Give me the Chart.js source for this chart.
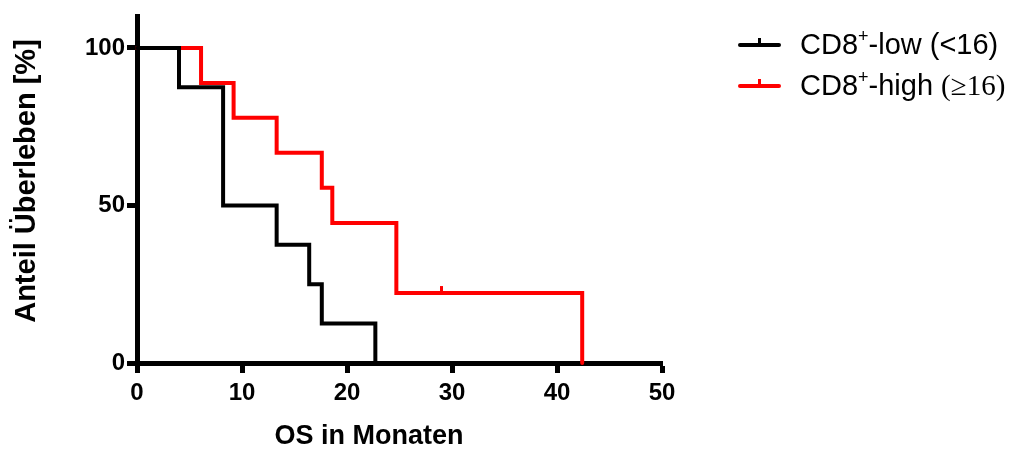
<!DOCTYPE html>
<html>
<head>
<meta charset="utf-8">
<script src="https://cdn.jsdelivr.net/npm/chart.js@4.4.1/dist/chart.umd.min.js"></script>
<style>
    html, body { margin: 0; padding: 0; background: #fff; }
    #wrap { width: 1009px; height: 451px; position: relative; }
</style>
</head>
<body>
<div id="wrap"><canvas id="myChart"></canvas></div>
<script>
// Kaplan-Meier Stufen (Zeit in Monaten, Überleben in %)
const lowTimes = [0, 4.0, 8.2, 13.3, 16.4, 17.6, 22.7];
const lowSurv = [100, 87.5, 50, 37.5, 25, 12.5, 0];
const highTimes = [0, 6.1, 9.2, 13.3, 17.6, 18.6, 24.7, 42.4];
const highSurv = [100, 88.9, 77.8, 66.7, 55.6, 44.4, 22.2, 0];
// zensierte Fälle
const highCensorTimes = [29.0];
const highCensorSurv = [22.2];

const xTicks = [0, 10, 20, 30, 40, 50];
const yTicks = [0, 50, 100];

const xTitle = 'OS in Monaten';
const yTitle = 'Anteil \u00dcberleben [%]';

const legendItems = [
    { main: 'CD8', tail: '-low (<16)', serifTail: '', color: '#000000' },
    { main: 'CD8', tail: '-high ', serifTail: '(\u226516)', color: '#ff0000' },
];

const FONT = '"Liberation Sans", Arial, sans-serif';

function toPoints(xs, ys) {
    let pts = [];
    for (let i = 0; i < xs.length; i++) {
        pts.push({ x: xs[i], y: ys[i] });
    }
    return pts;
}

const censorPlugin = {
    id: 'censor',
    afterDatasetsDraw(chart) {
        const c = chart.ctx;
        const xs = chart.scales.x;
        const ys = chart.scales.y;
        c.save();
        c.strokeStyle = '#ff0000';
        c.lineWidth = 3;
        for (let i = 0; i < highCensorTimes.length; i++) {
            let px = xs.getPixelForValue(highCensorTimes[i]);
            let py = ys.getPixelForValue(highCensorSurv[i]);
            c.beginPath();
            c.moveTo(px, py);
            c.lineTo(px, py - 7);
            c.stroke();
        }
        c.restore();
    }
};

// Achsentitel selbst zeichnen (nicht mittig zur Achse wie im Original)
const titlePlugin = {
    id: 'axisTitles',
    afterDraw(chart) {
        const c = chart.ctx;
        c.save();
        c.fillStyle = '#000';
        c.textAlign = 'center';
        c.textBaseline = 'middle';
        c.font = 'bold 27px ' + FONT;
        c.fillText(xTitle, 369, 437);
        c.translate(27, 181);
        c.rotate(-Math.PI / 2);
        c.font = 'bold 29px ' + FONT;
        c.fillText(yTitle, 0, 0);
        c.restore();
    }
};

const legendPlugin = {
    id: 'kmLegend',
    afterDraw(chart) {
        const c = chart.ctx;
        c.save();
        let y0 = 45;
        legendItems.forEach((item, i) => {
            let y = y0 + i * 41;
            c.strokeStyle = item.color;
            c.lineWidth = 4;
            c.lineCap = 'round';
            c.beginPath();
            c.moveTo(740, y);
            c.lineTo(779, y);
            c.stroke();
            c.lineWidth = 3;
            c.lineCap = 'butt';
            c.beginPath();
            c.moveTo(759.5, y);
            c.lineTo(759.5, y - 7);
            c.stroke();

            c.fillStyle = '#000';
            c.textBaseline = 'middle';
            c.textAlign = 'left';
            let x = 800;
            c.font = '29px ' + FONT;
            c.fillText(item.main, x, y + 1);
            x += c.measureText(item.main).width;
            c.font = '18px ' + FONT;
            c.fillText('+', x, y - 8);
            x += c.measureText('+').width;
            c.font = '29px ' + FONT;
            c.fillText(item.tail, x, y + 1);
            x += c.measureText(item.tail).width;
            if (item.serifTail) {
                c.font = '29px "Liberation Serif", "Times New Roman", serif';
                c.fillText(item.serifTail, x, y + 1);
            }
        });
        c.restore();
    }
};

const ctx = document.getElementById('myChart').getContext('2d');

const config = {
    type: 'line',
    data: {
        datasets: [
            {
                label: 'CD8+-low (<16)',
                data: toPoints(lowTimes, lowSurv),
                borderColor: '#000000',
                borderWidth: 4,
                stepped: 'before',
                pointRadius: 0,
                fill: false,
                clip: false,
                borderJoinStyle: 'miter',
                borderCapStyle: 'round',
            },
            {
                label: 'CD8+-high (\u226516)',
                data: toPoints(highTimes, highSurv),
                borderColor: '#ff0000',
                borderWidth: 4,
                stepped: 'before',
                pointRadius: 0,
                fill: false,
                clip: false,
                borderJoinStyle: 'miter',
                borderCapStyle: 'round',
            },
        ]
    },
    options: {
        responsive: false,
        animation: false,
        events: [],
        layout: { padding: { left: 0, right: 347, top: 15, bottom: 0 } },
        plugins: {
            legend: { display: false },
            tooltip: { enabled: false },
        },
        scales: {
            x: {
                type: 'linear',
                min: 0,
                max: 50,
                afterBuildTicks: (scale) => { scale.ticks = xTicks.map(v => ({ value: v })); },
                afterFit: (scale) => { scale.height = 88; },
                border: { display: true, color: '#000', width: 5 },
                grid: { drawOnChartArea: false, drawTicks: true, tickLength: 10, tickWidth: 5, tickColor: '#000', color: '#000' },
                ticks: { color: '#000', font: { family: FONT, size: 24, weight: 'bold' }, padding: 6, maxRotation: 0 },
            },
            y: {
                type: 'linear',
                min: 0,
                max: 110,
                afterBuildTicks: (scale) => { scale.ticks = yTicks.map(v => ({ value: v })); },
                afterFit: (scale) => { scale.width = 137; },
                border: { display: true, color: '#000', width: 5 },
                grid: { drawOnChartArea: false, drawTicks: true, tickLength: 10, tickWidth: 5, tickColor: '#000', color: '#000' },
                ticks: { color: '#000', font: { family: FONT, size: 24, weight: 'bold' }, padding: 2 },
            }
        }
    },
    plugins: [censorPlugin, titlePlugin, legendPlugin]
};

const canvas = document.getElementById('myChart');
canvas.width = 1009;
canvas.height = 451;
const chart = new Chart(ctx, config);
</script>
</body>
</html>
